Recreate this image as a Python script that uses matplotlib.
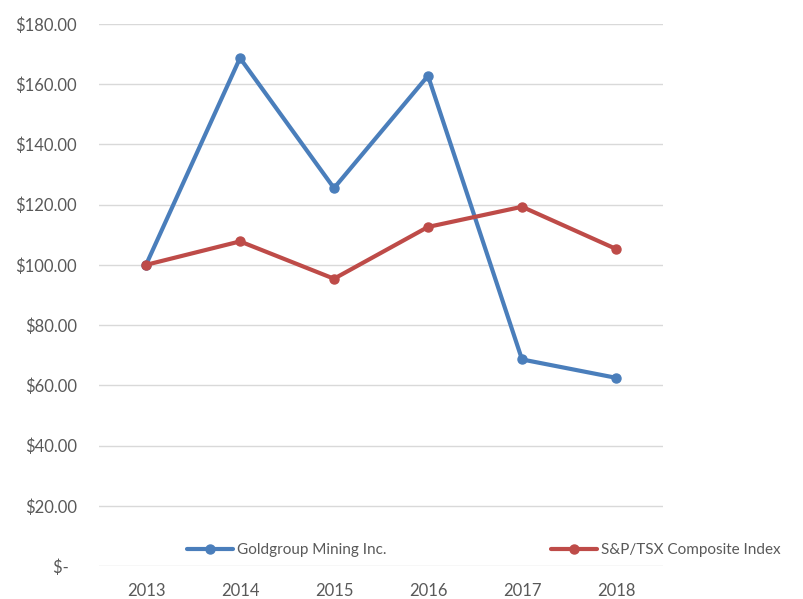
import matplotlib
matplotlib.use("Agg")
import matplotlib.pyplot as plt

years = ["2013", "2014", "2015", "2016", "2017", "2018"]
goldgroup = [100.0, 168.7, 125.5, 162.8, 68.6, 62.5]
sptsx = [100.0, 107.8, 95.4, 112.6, 119.3, 105.3]
yticks = [0, 20, 40, 60, 80, 100, 120, 140, 160, 180]
ytick_labels = ["$-  "] + [f"${v:.2f}" for v in yticks[1:]]

plt.rcParams['font.family'] = ['Lato', 'DejaVu Sans']
text_color = "#595959"

fig = plt.figure(figsize=(8.04, 5.99), dpi=100)
ax = fig.add_axes([99/804, 33/599, (663-99)/804, (566-24)/599])

x = list(range(len(years)))
ax.plot(x, goldgroup, color="#4A7EBB", lw=3.0, marker="o", ms=6.5,
        solid_capstyle="round", label="Goldgroup Mining Inc.")
ax.plot(x, sptsx, color="#BE4B48", lw=3.0, marker="o", ms=6.5,
        solid_capstyle="round", label="S&P/TSX Composite Index")

ax.set_xlim(-0.5, len(years) - 0.5)
ax.set_ylim(0, 180)
ax.set_xticks(x)
ax.set_xticklabels(years)
ax.set_yticks(yticks)
ax.set_yticklabels(ytick_labels)
ax.yaxis.grid(True, color="#D9D9D9", lw=1.0)
ax.set_axisbelow(True)
for s in ax.spines.values():
    s.set_visible(False)
ax.tick_params(axis="both", length=0, labelsize=12, colors=text_color)
ax.tick_params(axis="y", pad=16)
ax.tick_params(axis="x", pad=12)

leg = fig.legend(loc="center left", bbox_to_anchor=(187/804, 1 - 550/599), ncol=2,
                 frameon=False, fontsize=11, handlelength=3.0, handletextpad=0.25,
                 columnspacing=10.8, borderaxespad=0, borderpad=0)
for t in leg.get_texts():
    t.set_color(text_color)

fig.savefig("out.png", dpi=100, facecolor="white")
